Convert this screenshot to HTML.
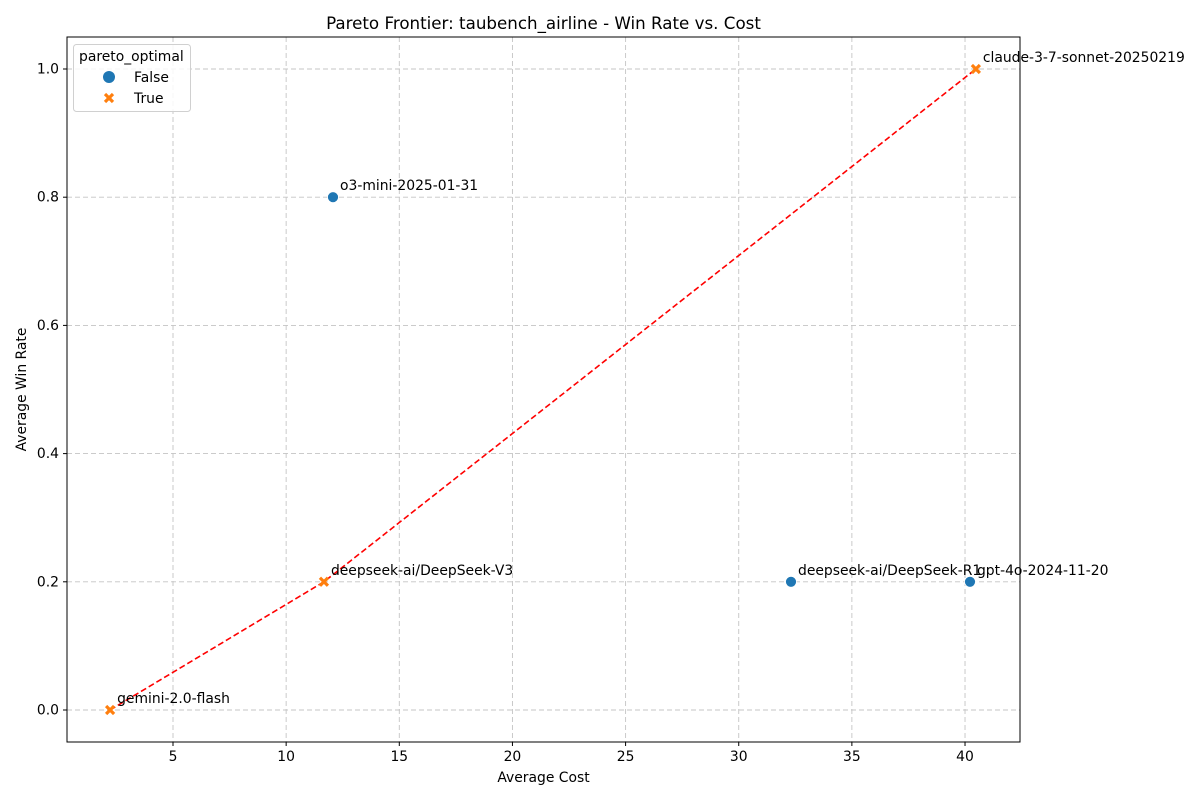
<!DOCTYPE html>
<html><head><meta charset="utf-8"><style>
body{margin:0;background:#fff;font-family:"DejaVu Sans","Liberation Sans",sans-serif}
</style></head><body>
<svg id="chart" width="1200" height="800" xmlns="http://www.w3.org/2000/svg" font-family="DejaVu Sans, Liberation Sans, sans-serif"></svg>
<script>
const models=["gemini-2.0-flash","deepseek-ai/DeepSeek-V3","o3-mini-2025-01-31","deepseek-ai/DeepSeek-R1","gpt-4o-2024-11-20","claude-3-7-sonnet-20250219"];
const costs=[2.22,11.67,12.07,32.31,40.22,40.48];
const winRates=[0.0,0.2,0.8,0.2,0.2,1.0];
const pareto=[true,true,false,false,false,true];
const xTicks=[5,10,15,20,25,30,35,40];
const yTicks=[0.0,0.2,0.4,0.6,0.8,1.0];
const L=67,R=1020,T=37,B=742;
const xs=v=>59.86+v*22.629;
const ys=v=>710-v*641;
const svg=document.getElementById('chart');
const NS='http://www.w3.org/2000/svg';
function mk(t,a,p){const e=document.createElementNS(NS,t);for(const k in a)e.setAttribute(k,a[k]);(p||svg).appendChild(e);return e;}
function txt(s,a,p){const e=mk('text',a,p);e.textContent=s;return e;}
const FS=13.9;
let e;
xTicks.forEach(v=>{
 e=mk('line',{x1:xs(v),x2:xs(v),y1:T,y2:B,stroke:'#c4c4c4','stroke-dasharray':'5,3','stroke-width':0.9});
 
 
 e=mk('line',{x1:xs(v),x2:xs(v),y1:B,y2:B+4,stroke:'#000'});
 
 
 e=txt(String(v),{x:xs(v),y:B+19,'text-anchor':'middle','font-size':FS});
 
 
});
yTicks.forEach(v=>{
 e=mk('line',{x1:L,x2:R,y1:ys(v),y2:ys(v),stroke:'#c4c4c4','stroke-dasharray':'5,3','stroke-width':0.9});
 
 
 e=mk('line',{x1:L-4,x2:L,y1:ys(v),y2:ys(v),stroke:'#000'});
 
 
 e=txt(v.toFixed(1),{x:L-8,y:ys(v)+4.5,'text-anchor':'end','font-size':FS});
 
 
});
e=mk('rect',{x:L,y:T,width:R-L,height:B-T,fill:'none',stroke:'#000','stroke-width':1});


const pidx=costs.map((c,i)=>i).filter(i=>pareto[i]).sort((a,b)=>costs[a]-costs[b]);
e=mk('polyline',{points:pidx.map(i=>xs(costs[i])+','+ys(winRates[i])).join(' '),fill:'none',stroke:'#ff0000','stroke-width':1.6,'stroke-dasharray':'6,3'});


function cross(cx,cy,s,p){
 const g=mk('g',{},p);
 mk('line',{x1:cx-s,y1:cy-s,x2:cx+s,y2:cy+s,stroke:'#ff7f0e','stroke-width':3.2},g);
 mk('line',{x1:cx-s,y1:cy+s,x2:cx+s,y2:cy-s,stroke:'#ff7f0e','stroke-width':3.2},g);
 return g;
}
costs.forEach((c,i)=>{
 const cx=xs(c),cy=ys(winRates[i]);
 if(pareto[i]){e=cross(cx,cy,4);}
 else{e=mk('circle',{cx:cx,cy:cy,r:5.5,fill:'#1f77b4',stroke:'#fff','stroke-width':0.8});}
 
 
 e=txt(models[i],{x:cx+7,y:cy-7,'font-size':FS});
 
 
});
e=txt('Pareto Frontier: taubench_airline - Win Rate vs. Cost',{x:(L+R)/2,y:29,'text-anchor':'middle','font-size':16.7});


e=txt('Average Cost',{x:(L+R)/2,y:782,'text-anchor':'middle','font-size':FS});


e=txt('Average Win Rate',{x:26,y:(T+B)/2,'text-anchor':'middle','font-size':FS,transform:'rotate(-90 26 '+(T+B)/2+')'});


const lg=mk('g',{});


mk('rect',{x:73.5,y:44.5,width:117,height:67,rx:3,fill:'#fff','fill-opacity':0.85,stroke:'#d0d0d0'},lg);
txt('pareto_optimal',{x:79,y:61,'font-size':FS},lg);
e=mk('circle',{cx:109,cy:77,r:6,fill:'#1f77b4'},lg);


txt('False',{x:134,y:82,'font-size':FS},lg);
e=cross(109,98,4,lg);


txt('True',{x:134,y:103,'font-size':FS},lg);
</script>
</body></html>
